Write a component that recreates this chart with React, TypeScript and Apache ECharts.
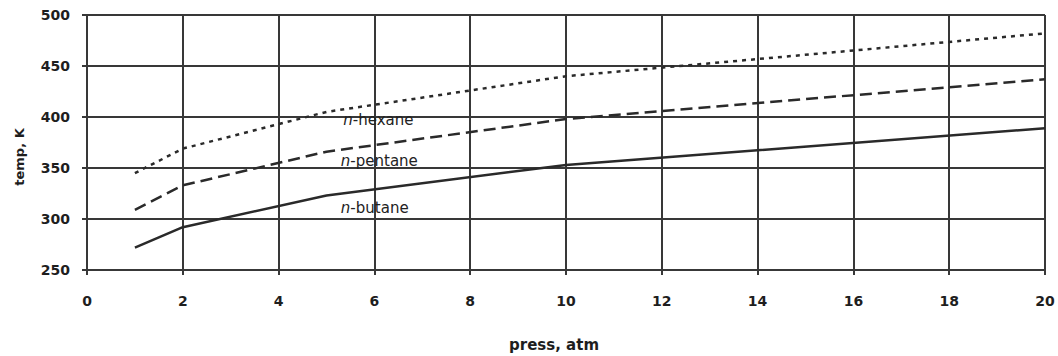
import React, { useEffect, useRef } from "react";
import * as echarts from "echarts";

const pressures = [1, 2, 5, 10, 20];
const hexane = [345, 369, 405, 440, 482];
const pentane = [309, 333, 366, 398, 437];
const butane = [272, 292, 323, 353, 389];

const seriesNames = ["n-hexane", "n-pentane", "n-butane"];
const labelX = [5.35, 5.3, 5.3];
const labelY = [397, 357, 311];

const xMin = 0;
const xMax = 20;
const xStep = 2;
const yMin = 250;
const yMax = 500;
const yStep = 50;

const xTitle = "press, atm";
const yTitle = "temp, K";

const INK = "#2a2a2a";
const GRID = "#383838";

function pairs(ys: number[]) {
  return pressures.map((p, i) => [p, ys[i]]);
}

export default function App() {
  const ref = useRef<HTMLDivElement>(null);
  useEffect(() => {
    if (!ref.current) return;
    const chart = echarts.init(ref.current, undefined, { renderer: "svg" });
    const lineBase = { type: "line", symbol: "none", smooth: false, z: 5 } as any;
    chart.setOption({
      animation: false,
      backgroundColor: "#ffffff",
      grid: { left: 87, right: 13, top: 15, bottom: 86 },
      xAxis: {
        type: "value",
        min: xMin,
        max: xMax,
        interval: xStep,
        axisLine: { show: true, lineStyle: { color: GRID, width: 2 } },
        axisTick: { show: true, length: 5, lineStyle: { color: GRID, width: 2 } },
        splitLine: { show: true, lineStyle: { color: GRID, width: 2 } },
        axisLabel: {
          margin: 24,
          color: "#1e1e1e",
          fontFamily: "DejaVu Sans",
          fontWeight: "bold",
          fontSize: 14,
        },
      },
      yAxis: {
        type: "value",
        min: yMin,
        max: yMax,
        interval: yStep,
        axisLine: { show: true, lineStyle: { color: GRID, width: 2 } },
        axisTick: { show: true, length: 5, lineStyle: { color: GRID, width: 2 } },
        splitLine: { show: true, lineStyle: { color: GRID, width: 2 } },
        axisLabel: {
          margin: 17,
          color: "#1e1e1e",
          fontFamily: "DejaVu Sans",
          fontWeight: "bold",
          fontSize: 14,
        },
      },
      series: [
        { ...lineBase, name: seriesNames[0], data: pairs(hexane), lineStyle: { color: INK, width: 2.5, type: [4, 5], cap: "butt" } },
        { ...lineBase, name: seriesNames[1], data: pairs(pentane), lineStyle: { color: INK, width: 2.5, type: [12, 6] } },
        { ...lineBase, name: seriesNames[2], data: pairs(butane), lineStyle: { color: INK, width: 2.5, type: "solid" } },
      ],
    });

    const labels = seriesNames.map((name, i) => {
      const [px, py] = chart.convertToPixel({ gridIndex: 0 }, [labelX[i], labelY[i]]) as number[];
      return {
        type: "text",
        x: px,
        y: py,
        z: 10,
        style: {
          text: "{i|n}" + name.slice(1),
          fill: "#222",
          fontFamily: "DejaVu Sans",
          fontSize: 15,
          verticalAlign: "middle",
          align: "left",
          rich: {
            i: { fontStyle: "italic", fontFamily: "DejaVu Sans", fontSize: 15, fill: "#222" },
          },
        },
      };
    });

    chart.setOption({
      graphic: [
        ...labels,
        {
          type: "text",
          x: 554,
          y: 345,
          style: {
            text: xTitle,
            fill: "#1e1e1e",
            fontFamily: "DejaVu Sans",
            fontWeight: "bold",
            fontSize: 15,
            align: "center",
            verticalAlign: "middle",
          },
        },
        {
          type: "text",
          x: 19,
          y: 157,
          rotation: Math.PI / 2,
          style: {
            text: yTitle,
            fill: "#1e1e1e",
            fontFamily: "DejaVu Sans",
            fontWeight: "bold",
            fontSize: 13,
            align: "center",
            verticalAlign: "middle",
          },
        },
      ],
    });
    return () => chart.dispose();
  }, []);
  return (
    <div
      ref={ref}
      style={{ position: "fixed", left: 0, top: 0, width: 1058, height: 356, background: "#fff" }}
    />
  );
}
